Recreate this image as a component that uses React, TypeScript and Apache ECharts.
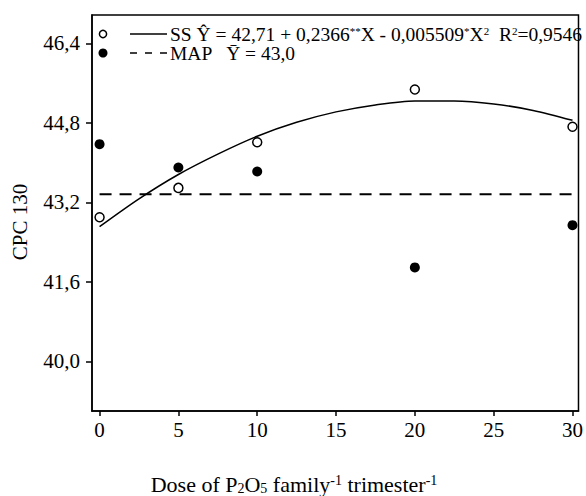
import React, { useEffect, useRef } from "react";
import * as echarts from "echarts";

const doses = [0, 5, 10, 20, 30];
const ssValues = [42.9, 43.49, 44.41, 45.47, 44.72];
const mapValues = [44.37, 43.9, 43.82, 41.89, 42.74];
const curveX = [0, 2.5, 5, 7.5, 10, 12.5, 15, 17.5, 20, 22.5, 25, 27.5, 30];
const curveY = [42.71, 43.27, 43.76, 44.17, 44.53, 44.81, 45.02, 45.16, 45.24, 45.24, 45.18, 45.05, 44.85];
const mapMean = 43.36;
const xTicks = [0, 5, 10, 15, 20, 25, 30];
const yTicks = [40.0, 41.6, 43.2, 44.8, 46.4];

const FONT = "'Liberation Serif', 'Times New Roman', serif";
const INK = "#000";

export default function App() {
  const ref = useRef<HTMLDivElement>(null);
  useEffect(() => {
    if (!ref.current) return;
    const chart = echarts.init(ref.current, undefined, { renderer: "svg" });
    const xMin = -0.48;
    const xMax = 30.38;
    chart.setOption({
      animation: false,
      backgroundColor: "#fff",
      grid: {
        left: 92,
        top: 15,
        right: 3,
        bottom: 85,
        show: true,
        borderColor: INK,
        borderWidth: 1.5,
        backgroundColor: "transparent",
      },
      xAxis: {
        type: "value",
        min: xMin,
        max: xMax,
        axisLine: { show: true, onZero: false, lineStyle: { color: INK, width: 1.5 } },
        axisTick: { show: true, customValues: xTicks, length: 5, lineStyle: { color: INK, width: 1.5 } },
        axisLabel: {
          customValues: xTicks,
          fontSize: 21,
          fontFamily: FONT,
          color: INK,
          margin: 8,
        },
        splitLine: { show: false },
      },
      yAxis: {
        type: "value",
        min: 39.0,
        max: 46.97,
        axisLine: { show: true, onZero: false, lineStyle: { color: INK, width: 1.5 } },
        axisTick: { show: true, customValues: yTicks, length: 6, lineStyle: { color: INK, width: 1.5 } },
        axisLabel: {
          customValues: yTicks,
          fontSize: 21,
          fontFamily: FONT,
          color: INK,
          margin: 12,
          formatter: (v: number) => v.toFixed(1).replace(".", ","),
        },
        splitLine: { show: false },
      },
      series: [
        {
          name: "SS fit",
          type: "line",
          data: curveX.map((x, i) => [x, curveY[i]]),
          smooth: 0.3,
          showSymbol: false,
          lineStyle: { color: INK, width: 1.5 },
          z: 2,
        },
        {
          name: "MAP mean",
          type: "line",
          data: [
            [0, mapMean],
            [xMax, mapMean],
          ],
          showSymbol: false,
          lineStyle: { color: INK, width: 2, type: [12, 8] },
          z: 2,
        },
        {
          name: "SS",
          type: "scatter",
          data: doses.map((x, i) => [x, ssValues[i]]),
          symbol: "circle",
          symbolSize: 9,
          itemStyle: { color: "#fff", borderColor: INK, borderWidth: 1.5, opacity: 1 },
          z: 3,
        },
        {
          name: "MAP",
          type: "scatter",
          data: doses.map((x, i) => [x, mapValues[i]]),
          symbol: "circle",
          symbolSize: 10,
          itemStyle: { color: INK, opacity: 1 },
          z: 3,
        },
      ],
      graphic: [
        { type: "circle", shape: { cx: 103, cy: 34, r: 3.6 }, style: { fill: "#fff", stroke: INK, lineWidth: 1.5 } },
        { type: "line", shape: { x1: 130, y1: 34, x2: 167, y2: 34 }, style: { stroke: INK, lineWidth: 1.5 } },
        {
          type: "text",
          x: 170,
          y: 34,
          style: {
            text: "{n|SS Ŷ = 42,71 + 0,2366}{s|**}{n|X - 0,005509}{s|*}{n|X}{s|2}{n|  R}{s|2}{n|=0,9546}",
            verticalAlign: "middle",
            align: "left",
            fill: INK,
            rich: {
              n: { fontSize: 19.5, lineHeight: 18, fontFamily: FONT, fill: INK },
              s: { fontSize: 11, lineHeight: 11, fontFamily: FONT, fill: INK, verticalAlign: "top" },
            },
          },
        },
        { type: "circle", shape: { cx: 103, cy: 53, r: 4.5 }, style: { fill: INK } },
        {
          type: "line",
          shape: { x1: 130, y1: 53, x2: 167, y2: 53 },
          style: { stroke: INK, lineWidth: 1.5, lineDash: [7, 8] },
        },
        {
          type: "text",
          x: 170,
          y: 53,
          style: {
            text: "MAP   Ȳ = 43,0",
            verticalAlign: "middle",
            align: "left",
            fill: INK,
            fontSize: 19.5,
            lineHeight: 18,
            fontFamily: FONT,
          },
        },
        {
          type: "text",
          x: 20,
          y: 222,
          rotation: Math.PI / 2,
          style: {
            text: "CPC 130",
            align: "center",
            verticalAlign: "middle",
            fill: INK,
            fontSize: 21,
            fontFamily: FONT,
          },
        },
        {
          type: "text",
          x: 294,
          y: 484,
          style: {
            text: "{n|Dose of P}{b|2}{n|O}{b|5}{n| family}{t|-1}{n| trimester}{t|-1}",
            align: "center",
            verticalAlign: "middle",
            fill: INK,
            rich: {
              n: { fontSize: 22, fontFamily: FONT, fill: INK },
              b: { fontSize: 14, fontFamily: FONT, fill: INK, verticalAlign: "bottom" },
              t: { fontSize: 14, fontFamily: FONT, fill: INK, verticalAlign: "top" },
            },
          },
        },
      ],
    });
    return () => chart.dispose();
  }, []);
  return (
    <div
      ref={ref}
      style={{ position: "fixed", left: 0, top: 0, width: 586, height: 496, background: "#fff" }}
    />
  );
}
